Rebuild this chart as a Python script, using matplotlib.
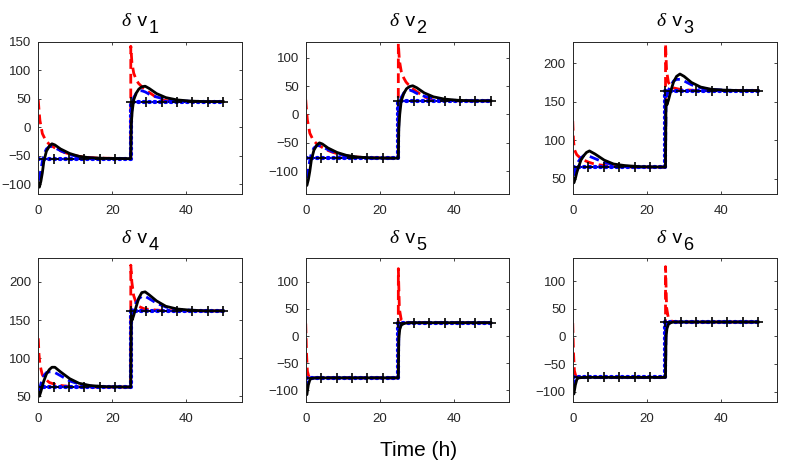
import numpy as np
import matplotlib
matplotlib.use('Agg')
import matplotlib.pyplot as plt
from matplotlib.offsetbox import TextArea, HPacker, VPacker, DrawingArea, AnchoredOffsetbox

plt.rcParams['font.family'] = ['Liberation Sans', 'DejaVu Sans']

# time grids (h)
t_resp = [0, 0.3, 0.7, 1.1, 1.5, 2.2, 3.0, 3.7, 4.5, 6, 8.5, 11, 14, 18, 25,
          25.15, 25.4, 25.8, 26.5, 27.2, 28, 28.9, 30, 32, 34.5, 37.5, 41, 45, 50]
t_red = [0, 0.2, 0.45, 0.8, 1.1, 2, 3, 4.2, 5.5, 7, 9.5, 12, 16, 25,
         25.02, 25.3, 25.8, 26.5, 27.1, 28.5, 29.8, 32, 34, 37, 41, 50]
t_ss = [0, 4.17, 8.33, 12.5, 16.67, 20.83, 25, 29.17, 33.33, 37.5, 41.67, 45.83, 50]

# steady-state levels before / after the switch at t = 25 h
ss_low = [-55, -77, 65, 62, -77, -74]
ss_high = [45, 24, 164.5, 162, 24.5, 26]

# black solid
black = [
    [-98, -105, -95, -80, -60, -42, -33, -29, -31, -38, -46, -51, -53.5, -54.5, -55,
     5, 28, 48, 60, 67, 71, 72, 68, 59, 52, 48, 46, 45, 45],
    [-118, -125, -115, -100, -81, -63, -54, -50, -52, -59, -67, -72, -75, -76.5, -77,
     -25, 0, 24, 37, 45, 49, 50.5, 47, 38, 31, 27, 25, 24, 24],
    [52, 44.5, 50, 58, 64, 74, 80, 84, 86, 82, 74, 69, 67, 65.5, 65,
     152, 146, 152, 165, 176, 183, 186, 183, 175, 169, 166, 165, 164.5, 164.5],
    [55, 50, 56, 63, 70, 79, 85, 88, 88, 82, 73, 67, 64, 62.5, 62,
     155, 150, 156, 168, 179, 186, 187, 183, 175, 168, 164.5, 163, 162, 162],
    [-100, -108, -90, -81, -78, -77.5, -77, -77, -77, -77, -77, -77, -77, -77, -77,
     -5, 12, 20, 23, 24, 24.5, 24.5, 24.5, 24.5, 24.5, 24.5, 24.5, 24.5, 24.5],
    [-97, -104, -88, -78, -75, -74.5, -74, -74, -74, -74, -74, -74, -74, -74, -74,
     -2, 14, 22, 25, 26, 26, 26, 26, 26, 26, 26, 26, 26, 26],
]

# blue dashed
blue = [
    [-93, -90, -75, -60, -48, -38, -34, -34, -36, -41, -48, -52, -54, -55, -55,
     20, 38, 52, 60, 64, 64, 62, 58, 53, 49, 46.5, 45.5, 45, 45],
    [-112, -110, -96, -81, -69, -59, -55, -55, -57, -62, -69, -73, -76, -77, -77,
     -2, 16, 30, 38, 42, 43, 41, 37, 32, 28, 25.5, 24.5, 24, 24],
    [55, 55, 62, 68, 72, 77, 80, 80, 79, 76, 71, 68, 66, 65, 65,
     150, 158, 165, 172, 177, 179, 179, 177, 172, 168, 166, 165, 164.5, 164.5],
    [58, 58, 66, 73, 77, 81, 82, 82, 81, 77, 70, 66, 63.5, 62.5, 62,
     150, 160, 166, 173, 178, 181, 181, 178, 172, 167, 164, 163, 162, 162],
    [-92, -96, -84, -79, -77.5, -77, -77, -77, -77, -77, -77, -77, -77, -77, -77,
     8, 19, 23, 24, 24.5, 24.5, 24.5, 24.5, 24.5, 24.5, 24.5, 24.5, 24.5, 24.5],
    [-89, -92, -80, -76, -74.5, -74, -74, -74, -74, -74, -74, -74, -74, -74, -74,
     10, 21, 25, 26, 26, 26, 26, 26, 26, 26, 26, 26, 26, 26],
]

# red dashed
red = [
    [48, 30, 12, 0, -11, -23, -30, -35, -40, -44, -49, -52, -54, -55,
     142, 115, 95, 83, 77, 68, 62, 52, 47, 45.5, 45, 45],
    [26, 8, -10, -22, -33, -45, -52, -57, -62, -66, -71, -74, -76, -77,
     125, 95, 76, 64, 57, 47, 41, 31, 26, 24.5, 24, 24],
    [125, 100, 88, 84, 81, 77, 74, 71.5, 69.5, 68, 66.5, 65.5, 65, 65,
     225, 190, 175, 170, 168, 166.5, 165.5, 165, 164.5, 164.5, 164.5, 164.5],
    [126, 105, 92, 84, 78, 72, 68, 66, 64.5, 63.5, 62.5, 62, 62, 62,
     222, 200, 182, 172, 168, 165, 164, 163, 162.5, 162, 162, 162],
    [23, -30, -65, -74, -76, -77, -77, -77, -77, -77, -77, -77, -77, -77,
     124, 50, 30, 26, 25, 24.5, 24.5, 24.5, 24.5, 24.5, 24.5, 24.5],
    [24, -28, -62, -71, -73, -74, -74, -74, -74, -74, -74, -74, -74, -74,
     126, 52, 32, 28, 27, 26, 26, 26, 26, 26, 26, 26],
]

ylims = [(-117, 150), (-140, 128), (30, 228), (42, 231), (-122, 143), (-119, 141)]
yticks = [[-100, -50, 0, 50, 100, 150], [-100, -50, 0, 50, 100], [50, 100, 150, 200],
          [50, 100, 150, 200], [-100, -50, 0, 50, 100], [-100, -50, 0, 50, 100]]
xticks = [0, 20, 40]

fig = plt.figure(figsize=(7.89, 4.66), dpi=100)
fig.patch.set_facecolor('white')

lefts = [0.0485, 0.3875, 0.7259]
widths = [0.2578, 0.2580, 0.2586]
rows = [(0.5837, 0.3268), (0.1367, 0.3090)]
grey = (0.15, 0.15, 0.15)

for i in range(6):
    r, c = divmod(i, 3)
    ax = fig.add_axes([lefts[c], rows[r][0], widths[c], rows[r][1]])
    lo, hi = ss_low[i], ss_high[i]
    ss = [lo if t < 25 else hi for t in t_ss]

    ax.plot(t_red, red[i], '--', color='r', lw=2, dashes=(3.5, 1.8))
    ax.plot(t_resp, blue[i], '--', color='b', lw=2, dashes=(3.5, 1.8))
    ax.plot(t_ss, ss, drawstyle='steps-post', color='k', lw=1.3)
    ax.plot(t_ss, ss, drawstyle='steps-post', color='b', lw=3,
            linestyle=(0, (0.25, 1.05)), dash_capstyle='round')
    ax.plot(t_ss, ss, 'k+', ms=6.5, mew=1.2)
    ax.plot(t_resp, black[i], '-', color='k', lw=2)

    ax.set_xlim(0, 55)
    ax.set_ylim(*ylims[i])
    ax.set_xticks(xticks)
    ax.set_yticks(yticks[i])
    ax.tick_params(direction='in', length=2.5, width=0.6, top=True, right=True,
                   labelsize=9.5, colors=grey, labelcolor=grey, pad=5)
    ax.tick_params(axis='x', pad=8)
    for s in ax.spines.values():
        s.set_color(grey)
        s.set_linewidth(0.7)

    # title: delta v_i with a full-size subscript
    d = TextArea('\u03b4', textprops=dict(fontsize=14, fontstyle='italic',
                                          family='Liberation Serif'))
    v = TextArea(' v', textprops=dict(fontsize=14))
    sub = VPacker(children=[DrawingArea(1, 5), TextArea(str(i + 1), textprops=dict(fontsize=13))],
                  pad=0, sep=0, align='left')
    box = HPacker(children=[d, v, sub], align='top', pad=0, sep=1)
    anch = AnchoredOffsetbox(loc='lower center', child=box, pad=0, borderpad=0,
                             frameon=False, bbox_to_anchor=(0.5, 1.03),
                             bbox_transform=ax.transAxes)
    ax.add_artist(anch)

fig.text(0.531, 0.034, 'Time (h)', ha='center', va='center', fontsize=15)

fig.savefig('out.png', dpi=100, facecolor='white')
